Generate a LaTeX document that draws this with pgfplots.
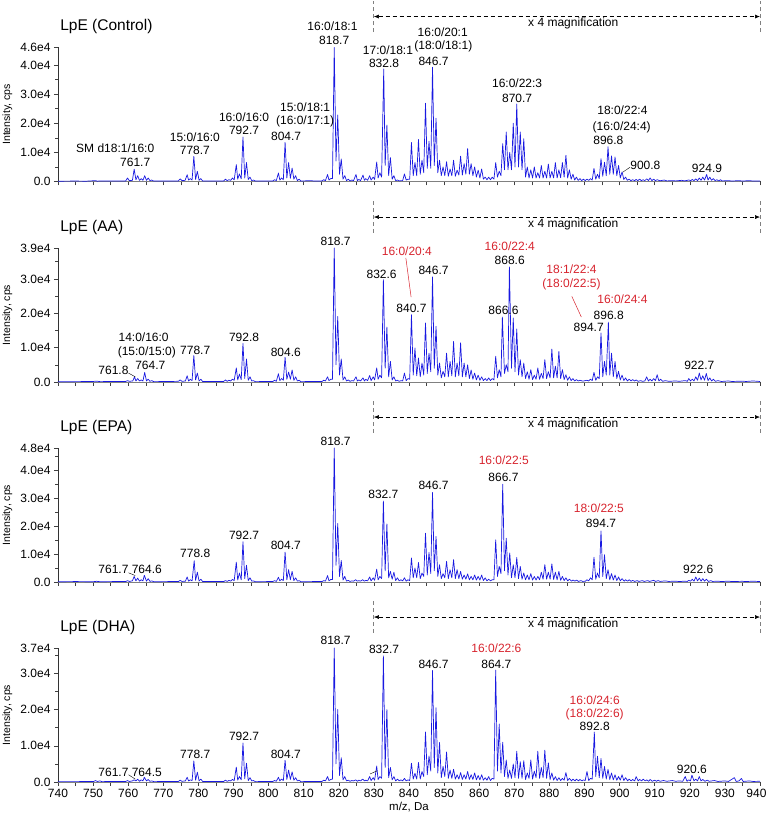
\documentclass[border=0pt]{standalone}
\usepackage{fontspec}
\setmainfont{Liberation Sans}
\usepackage{pgfplots}
\pgfplotsset{compat=1.18}
\usetikzlibrary{arrows.meta}
\definecolor{specblue}{RGB}{25,25,225}
\definecolor{lred}{RGB}{215,35,45}
\newcommand{\lab}[3][black]{\node[font=\fontsize{12}{14}\selectfont, text=#1, inner sep=0pt] at (axis cs:#2) {#3};}
\newcommand{\panelextras}[1]{%
  \node[anchor=west, font=\fontsize{15.5}{18}\selectfont, inner sep=0pt] at (rel axis cs:0.003,1.155) {#1};
  \draw[gray, dash pattern=on 4pt off 3pt, line width=0.9pt] (rel axis cs:0.45,1.115) -- (rel axis cs:0.45,1.35);
  \draw[gray, dash pattern=on 4pt off 3pt, line width=0.9pt] (rel axis cs:1,1.115) -- (rel axis cs:1,1.35);
  \draw[black, dash pattern=on 4pt off 3pt, line width=0.5pt, {Latex[length=5pt,width=4pt]}-{Latex[length=5pt,width=4pt]}] (rel axis cs:0.45,1.231) -- (rel axis cs:1,1.231);
  \node[font=\fontsize{12}{14}\selectfont, inner sep=0pt] at (rel axis cs:0.734,1.179) {x 4 magnification};
}
\pgfplotsset{
  spec/.style={
    width=702pt, height=134pt, scale only axis,
    xmin=740, xmax=940, ymin=0,
    axis x line*=bottom, axis y line*=left,
    axis line style={-},
    x axis line style={gray, line width=0.8pt},
    y axis line style={black!80, line width=0.6pt},
    xtick={740,745,...,940},
    xticklabels={},
    tick align=outside, major tick length=4pt, minor tick length=2.5pt,
    tick style={black!75, line width=0.5pt},
    tick label style={font=\fontsize{12}{14}\selectfont},
    /pgf/number format/assume math mode=true,
    scaled y ticks=false,
    ylabel={Intensity, cps},
    ylabel style={font=\fontsize{10.5}{12}\selectfont, at={(axis description cs:-0.072,0.5)}, anchor=center},
    clip=false,
  },
  sp/.style={specblue, line width=0.7pt, line join=round, no markers},
}
\begin{document}
\begin{tikzpicture}
\useasboundingbox (0,0) rectangle (768pt,814pt);
% ---------------- Control ----------------
\begin{axis}[spec, at={(58pt,632.5pt)}, anchor=south west,
  ymax=46000, ytick={0,10000,20000,30000,40000,46000},
  yticklabels={0.0,1.0e4,2.0e4,3.0e4,4.0e4,4.6e4},
  minor ytick={5000,15000,25000,35000}]
\addplot[sp] coordinates {
(740,100)(745,150)(748,100)(750.7,300)(751.2,100)(752,200)(755,150)(758,200)(759.3,200)(759.8,1200)(760.3,300)(761.2,400)(761.7,4200)(762.2,600)(762.7,2000)(763.2,400)(763.7,1000)(764.2,400)(764.7,2000)(765.2,400)(765.7,1200)(766.2,300)(766.7,500)(767.3,150)(770,150)(773,200)(774.3,200)(774.8,900)(775.3,300)(776.2,400)(776.8,2300)(777.2,500)(777.7,1000)(778.2,500)(778.7,8600)(779.2,700)(779.7,3500)(780.2,400)(780.7,1000)(781.2,200)(784,150)(787.2,200)(787.7,800)(788.2,300)(788.7,600)(789.2,400)(789.7,1200)(790.2,600)(790.8,5800)(791.2,800)(791.7,2600)(792.2,900)(792.7,15300)(793.2,1200)(793.7,6500)(794.2,700)(794.7,1500)(795.2,300)(795.7,500)(796.2,150)(799,150)(801.2,200)(801.7,600)(802.2,300)(802.8,2900)(803.2,500)(803.7,1200)(804.2,600)(804.7,13400)(805.2,1200)(805.7,6500)(806.2,1100)(806.7,4600)(807.2,800)(807.7,2000)(808.2,300)(808.7,800)(809.2,150)(812,300)(813,150)(815.2,200)(815.7,600)(816.2,300)(816.8,2400)(817.2,500)(817.7,1000)(818.2,1000)(818.7,46000)(819.2,7000)(819.7,22800)(820.2,2500)(820.7,7700)(821.2,800)(821.7,2000)(822.2,300)(822.7,800)(823.2,200)(823.7,500)(824.2,300)(824.9,2400)(825.3,300)(825.7,700)(826.2,300)(826.9,2200)(827.3,400)(827.7,1000)(828.2,400)(828.8,2000)(829.2,500)(829.8,1500)(830.2,700)(830.8,6700)(831.2,1200)(831.7,3000)(832.2,1500)(832.8,38600)(833.2,5500)(833.7,19400)(834.2,2000)(834.7,8200)(835.2,800)(835.7,2000)(836.2,300)(836.7,500)(837.2,200)(837.7,300)(838.2,300)(838.7,2600)(839.2,500)(839.7,800)(840.2,800)(840.7,13400)(841.2,2000)(841.7,6500)(842.2,2000)(842.7,14400)(843.2,2500)(843.7,7300)(844.2,3000)(844.7,26900)(845.2,4500)(845.7,13800)(846.2,4500)(846.7,39200)(847.2,5500)(847.7,21700)(848.2,3000)(848.7,7300)(849.2,2000)(849.7,5000)(850.2,2000)(850.7,6800)(851.2,1800)(851.7,4300)(852.2,2000)(852.7,7300)(853.2,1800)(853.7,3900)(854.2,2200)(854.7,8700)(855.2,2200)(855.7,6100)(856.2,2500)(856.7,11300)(857.2,2500)(857.7,6100)(858.2,2000)(858.7,5000)(859.2,1500)(859.7,3900)(860.2,1200)(860.7,4300)(861.2,800)(861.7,1500)(862.2,600)(862.7,1500)(863.2,600)(863.7,1500)(864.2,800)(864.7,6500)(865.2,1500)(865.7,3500)(866.2,2000)(866.7,13000)(867.2,4000)(867.7,17000)(868.2,4000)(868.7,10000)(869.2,4000)(869.7,20000)(870.2,5000)(870.7,26600)(871.2,5000)(871.7,17000)(872.2,4000)(872.7,14700)(873.2,1500)(873.7,5000)(874.2,1200)(874.7,4000)(875.2,1200)(875.7,5000)(876.2,1200)(876.7,3000)(877.2,1200)(877.7,5500)(878.2,1200)(878.7,3500)(879.2,1200)(879.7,6000)(880.2,1200)(880.7,3500)(881.2,1200)(881.7,6500)(882.2,1200)(882.7,4000)(883.2,1300)(883.7,6500)(884.2,1500)(884.7,9000)(885.2,1200)(885.7,4000)(886.2,800)(886.7,2500)(887.2,500)(887.7,1500)(888.2,400)(888.7,1000)(889.2,300)(889.7,800)(890.2,300)(890.7,800)(891.2,400)(891.7,1000)(892.2,500)(892.7,4500)(893.2,800)(893.7,2500)(894.2,1000)(894.7,7800)(895.2,1800)(895.7,6600)(896.2,2000)(896.7,11900)(897.2,2500)(897.7,8800)(898.2,2500)(898.7,8400)(899.2,2000)(899.7,5500)(900.2,1200)(900.7,3300)(901.2,700)(901.7,1500)(902.2,400)(902.7,800)(903.2,300)(903.7,600)(904.3,300)(904.7,700)(905.2,300)(905.7,800)(906.2,300)(906.7,600)(907.2,300)(907.7,900)(908.2,300)(908.7,1200)(909.2,300)(909.7,800)(910.2,300)(910.7,600)(911.5,250)(912.7,500)(913.5,200)(915,300)(916,200)(917.7,400)(918.5,200)(919.7,500)(920.3,300)(920.7,700)(921.2,300)(921.7,900)(922.2,300)(922.7,1200)(923.2,400)(923.7,1500)(924.2,500)(924.8,2400)(925.2,500)(925.7,1500)(926.2,400)(926.7,1000)(927.2,300)(927.7,600)(928.3,200)(928.7,600)(929.3,200)(931,300)(932,150)(934,300)(935,150)(937,300)(938,150)(940,200)
};
\panelextras{LpE (Control)}
\lab{756.3,11300}{SM d18:1/16:0}
\lab{762,6400}{761.7}
\lab{779,15300}{15:0/16:0}
\lab{779,10700}{778.7}
\lab{793,22000}{16:0/16:0}
\lab{793,17400}{792.7}
\lab{810.4,25400}{15:0/18:1}
\lab{810.4,20800}{(16:0/17:1)}
\lab{805,15500}{804.7}
\lab{818.2,53200}{16:0/18:1}
\lab{818.7,48600}{818.7}
\lab{834,45200}{17:0/18:1}
\lab{832.9,40600}{832.8}
\lab{849.6,51300}{16:0/20:1}
\lab{849.8,46300}{(18:0/18:1)}
\lab{847,41400}{846.7}
\lab{870.8,33700}{16:0/22:3}
\lab{870.8,28700}{870.7}
\lab{900.8,24500}{18:0/22:4}
\lab{900.6,18700}{(16:0/24:4)}
\lab{896.8,14100}{896.8}
\draw[black, line width=0.4pt] (axis cs:900.9,3200) -- (axis cs:903.0,4900);
\node[anchor=west, font=\fontsize{12}{14}\selectfont, inner sep=0pt] at (axis cs:903.0,5500) {900.8};
\lab{924.9,4400}{924.9}
\end{axis}
% ---------------- AA ----------------
\begin{axis}[spec, at={(58pt,432pt)}, anchor=south west,
  ymax=39000, ytick={0,10000,20000,30000,39000},
  yticklabels={0.0,1.0e4,2.0e4,3.0e4,3.9e4},
  minor ytick={5000,15000,25000,35000}]
\addplot[sp] coordinates {
(740,100)(745,100)(750,150)(751,250)(752,100)(755,150)(759.3,150)(759.8,400)(760.3,200)(761.3,300)(761.8,1500)(762.2,300)(762.7,1000)(763.2,300)(763.7,600)(764.2,300)(764.7,2800)(765.2,300)(765.7,800)(766.2,200)(766.7,400)(767.3,100)(772,150)(774.3,200)(774.8,600)(775.3,200)(776.3,300)(776.8,1800)(777.2,300)(777.7,800)(778.2,400)(778.7,7700)(779.2,600)(779.7,2600)(780.2,300)(780.7,800)(781.2,150)(785,150)(787.2,150)(787.7,600)(788.2,200)(788.7,500)(789.2,300)(789.7,800)(790.2,500)(790.8,4100)(791.2,600)(791.7,2300)(792.2,700)(792.7,11200)(793.2,1000)(793.7,6700)(794.2,500)(794.7,1500)(795.2,300)(795.7,400)(796.2,100)(800,150)(801.2,150)(801.7,500)(802.2,200)(802.8,2400)(803.2,400)(803.7,1000)(804.2,500)(804.7,7200)(805.2,800)(805.7,2900)(806.2,800)(806.7,3500)(807.2,500)(807.7,1500)(808.2,300)(808.7,500)(809.2,100)(813,150)(815.2,150)(815.7,500)(816.2,300)(816.8,1500)(817.2,400)(817.7,800)(818.2,800)(818.7,39000)(819.2,5000)(819.7,19100)(820.2,2000)(820.7,6700)(821.2,600)(821.7,1500)(822.2,300)(822.7,600)(823.2,200)(823.7,400)(824.2,300)(824.9,1500)(825.3,300)(825.7,600)(826.2,300)(826.9,1200)(827.3,300)(827.7,800)(828.2,400)(828.8,1900)(829.2,400)(829.8,1500)(830.2,600)(830.8,4100)(831.2,800)(831.7,2000)(832.2,1200)(832.7,29800)(833.2,4000)(833.7,16000)(834.2,1500)(834.7,6000)(835.2,600)(835.7,1500)(836.2,300)(836.7,500)(837.2,200)(837.7,400)(838.2,300)(838.7,2600)(839.2,400)(839.7,1000)(840.2,800)(840.7,19600)(841.2,2000)(841.7,9900)(842.2,1800)(842.7,7000)(843.2,1500)(843.7,5500)(844.2,2000)(844.7,17200)(845.2,2500)(845.7,8400)(846.2,3000)(846.7,30600)(847.2,4000)(847.7,16200)(848.2,2000)(848.7,5500)(849.2,1200)(849.7,3100)(850.2,1500)(850.7,8400)(851.2,1500)(851.7,6000)(852.2,1800)(852.7,11800)(853.2,1500)(853.7,5500)(854.2,1800)(854.7,11400)(855.2,1500)(855.7,5500)(856.2,1500)(856.7,5000)(857.2,1000)(857.7,3500)(858.2,800)(858.7,2600)(859.2,600)(859.7,2000)(860.2,500)(860.7,1500)(861.2,400)(861.7,1000)(862.2,400)(862.7,1200)(863.2,400)(863.7,1000)(864.2,600)(864.7,7500)(865.2,1200)(865.7,3600)(866.2,1500)(866.6,18900)(867.2,2500)(867.7,5000)(868.2,3000)(868.6,33500)(869.2,4000)(869.7,18600)(870.2,3000)(870.7,15400)(871.2,2000)(871.7,6500)(872.2,1500)(872.7,5500)(873.2,1000)(873.7,3000)(874.2,800)(874.7,3600)(875.2,700)(875.7,2000)(876.2,800)(876.7,4100)(877.2,800)(877.7,2500)(878.2,1000)(878.7,6500)(879.2,1000)(879.7,3000)(880.2,1200)(880.7,9600)(881.2,1200)(881.7,4600)(882.2,1200)(882.7,8900)(883.2,1000)(883.7,3600)(884.2,700)(884.7,2100)(885.2,500)(885.7,1500)(886.2,400)(886.7,1000)(887.2,300)(887.7,700)(888.2,300)(888.7,500)(889.5,250)(890.7,500)(891.2,300)(891.7,800)(892.2,400)(892.7,2800)(893.2,500)(893.7,1500)(894.2,1000)(894.7,14300)(895.2,1500)(895.7,6000)(896.2,2000)(896.8,17400)(897.2,2000)(897.7,8400)(898.2,1500)(898.7,6000)(899.2,1000)(899.7,3100)(900.2,600)(900.7,2000)(901.2,400)(901.7,1200)(902.2,300)(902.7,800)(903.3,300)(903.7,700)(904.3,300)(904.7,600)(905.3,200)(906,400)(906.5,200)(907.2,300)(907.7,1500)(908.2,300)(908.7,800)(909.2,300)(909.7,1000)(910.2,400)(910.7,2100)(911.2,300)(911.7,800)(912.3,200)(913,400)(914,200)(916,300)(917,200)(918.7,400)(919.3,200)(919.7,1000)(920.2,300)(920.7,800)(921.2,300)(921.7,1500)(922.2,500)(922.7,2600)(923.2,600)(923.7,1800)(924.2,500)(924.7,2500)(925.2,400)(925.7,1200)(926.2,300)(926.7,800)(927.3,200)(928,400)(929,150)(931,300)(932,150)(935,250)(936,150)(938,300)(940,150)
};
\panelextras{LpE (AA)}
\lab{819.1,40900}{818.7}
\lab[lred]{839.4,38200}{16:0/20:4}
\draw[lred, line width=0.5pt] (axis cs:839.1,36100) -- (axis cs:840.6,24700);
\lab{832.2,31400}{832.6}
\lab{840.7,21500}{840.7}
\lab{847,32400}{846.7}
\lab[lred]{868.7,39500}{16:0/22:4}
\lab{868.7,35300}{868.6}
\lab{866.9,20900}{866.6}
\lab[lred]{886.3,32700}{18:1/22:4}
\lab[lred]{886.3,28300}{(18:0/22:5)}
\draw[lred, line width=0.5pt] (axis cs:886.4,24900) -- (axis cs:889.1,18900);
\lab[lred]{900.8,24000}{16:0/24:4}
\lab{896.9,19300}{896.8}
\lab{891.2,16000}{894.7}
\lab{922.7,4800}{922.7}
\lab{764.4,13100}{14:0/16:0}
\lab{765.3,8600}{(15:0/15:0)}
\lab{766.3,4800}{764.7}
\lab{755.8,3300}{761.8}
\draw[black, line width=0.4pt] (axis cs:760.1,2600) -- (axis cs:762,1500);
\lab{779.1,9200}{778.7}
\lab{793,13100}{792.8}
\lab{804.9,8700}{804.6}
\end{axis}
% ---------------- EPA ----------------
\begin{axis}[spec, at={(58pt,232pt)}, anchor=south west,
  ymax=48000, ytick={0,10000,20000,30000,40000,48000},
  yticklabels={0.0,1.0e4,2.0e4,3.0e4,4.0e4,4.8e4},
  minor ytick={5000,15000,25000,35000,45000}]
\addplot[sp] coordinates {
(740,100)(745,150)(750,100)(751,250)(752,100)(756,150)(759.3,150)(759.8,500)(760.3,200)(761.2,400)(761.7,2000)(762.2,400)(762.7,1400)(763.2,300)(763.7,800)(764.2,400)(764.6,2400)(765.2,300)(765.7,1200)(766.2,200)(766.7,400)(767.3,100)(772,150)(774.3,150)(774.8,600)(775.3,200)(776.3,300)(776.8,1800)(777.2,300)(777.7,800)(778.2,400)(778.8,7600)(779.2,600)(779.7,3500)(780.2,300)(780.7,1000)(781.2,150)(785,150)(787.2,150)(787.7,500)(788.2,200)(788.7,600)(789.2,300)(789.7,900)(790.2,500)(790.8,7100)(791.2,700)(791.7,3200)(792.2,800)(792.7,14400)(793.2,1200)(793.7,6000)(794.2,500)(794.7,1500)(795.2,300)(795.7,400)(796.2,100)(800,150)(801.2,150)(801.7,500)(802.2,200)(802.8,1700)(803.2,400)(803.7,1000)(804.2,500)(804.7,10700)(805.2,800)(805.7,4400)(806.2,800)(806.7,3800)(807.2,500)(807.7,1500)(808.2,300)(808.7,500)(809.2,100)(813,150)(815.2,150)(815.7,500)(816.2,300)(816.8,2300)(817.2,400)(817.7,900)(818.2,900)(818.7,48000)(819.2,6000)(819.7,21000)(820.2,2000)(820.7,7700)(821.2,700)(821.7,2000)(822.2,300)(822.7,600)(823.2,200)(823.7,400)(824.2,300)(824.8,800)(825.3,300)(825.7,500)(826.2,300)(826.8,800)(827.3,300)(827.7,600)(828.2,400)(828.8,1800)(829.2,400)(829.8,1500)(830.2,600)(830.8,4600)(831.2,800)(831.7,2000)(832.2,1200)(832.7,29000)(833.2,4000)(833.7,20800)(834.2,1500)(834.7,3800)(835.2,1000)(835.7,3500)(836.2,500)(836.7,1500)(837.2,400)(837.7,800)(838.2,400)(838.7,1500)(839.2,300)(839.7,800)(840.2,500)(840.7,8600)(841.2,1500)(841.7,5000)(842.2,1500)(842.7,7000)(843.2,1200)(843.7,3200)(844.2,2000)(844.7,17500)(845.2,2500)(845.7,10600)(846.2,3000)(846.7,32100)(847.2,4000)(847.7,16300)(848.2,2000)(848.7,6200)(849.2,1200)(849.7,3000)(850.2,1500)(850.7,7400)(851.2,1200)(851.7,4400)(852.2,1500)(852.7,8000)(853.2,1200)(853.7,4400)(854.2,1200)(854.7,3800)(855.2,1000)(855.7,2500)(856.2,1000)(856.7,2900)(857.2,800)(857.7,2000)(858.2,800)(858.7,2500)(859.2,700)(859.7,2000)(860.2,700)(860.7,2500)(861.2,500)(861.7,1500)(862.2,400)(862.7,1000)(863.2,400)(863.7,800)(864.2,800)(864.7,15100)(865.2,2000)(865.7,5600)(866.2,3000)(866.7,35000)(867.2,4000)(867.7,15700)(868.2,2500)(868.7,10400)(869.2,1500)(869.7,6200)(870.2,1500)(870.7,8800)(871.2,1200)(871.7,5600)(872.2,1000)(872.7,3200)(873.2,800)(873.7,2500)(874.2,800)(874.7,3000)(875.2,700)(875.7,2000)(876.2,700)(876.7,2000)(877.2,800)(877.7,3500)(878.2,1000)(878.7,6200)(879.2,1000)(879.7,3500)(880.2,1000)(880.7,6500)(881.2,900)(881.7,3500)(882.2,800)(882.7,3800)(883.2,600)(883.7,2000)(884.2,500)(884.7,1500)(885.2,400)(885.7,1000)(886.3,300)(886.7,700)(887.3,300)(887.7,700)(888.3,200)(889,500)(889.5,200)(890.3,300)(890.7,800)(891.2,400)(891.7,1500)(892.2,800)(892.7,8900)(893.2,1000)(893.7,3200)(894.2,1500)(894.7,18300)(895.2,2000)(895.7,9800)(896.2,1200)(896.7,4400)(897.2,800)(897.7,3000)(898.2,700)(898.7,2500)(899.2,500)(899.7,1800)(900.2,400)(900.7,1200)(901.3,300)(901.7,800)(902.3,300)(902.7,800)(903.3,200)(903.7,600)(904.3,200)(905,500)(905.5,200)(906.5,500)(907,200)(908,500)(908.5,200)(909.7,600)(910.3,200)(911,500)(911.5,200)(913,400)(914,200)(916,300)(917,150)(918.5,300)(919.3,200)(919.7,600)(920.2,300)(920.7,1000)(921.2,300)(921.7,1800)(922.2,400)(922.7,1400)(923.2,300)(923.7,1200)(924.2,300)(924.7,1000)(925.3,200)(926,500)(926.5,200)(928,300)(929,150)(931,300)(932,150)(935,250)(936,150)(938,300)(940,150)
};
\panelextras{LpE (EPA)}
\lab{819.1,50400}{818.7}
\lab{832.7,31500}{832.7}
\lab{847,34600}{846.7}
\lab[lred]{867,43500}{16:0/22:5}
\lab{866.9,37500}{866.7}
\lab[lred]{894.1,26500}{18:0/22:5}
\lab{894.7,20900}{894.7}
\lab{922.4,4700}{922.6}
\lab{755.8,4700}{761.7}
\draw[black, line width=0.4pt] (axis cs:760.1,3300) -- (axis cs:762,2300);
\lab{765.3,4700}{764.6}
\lab{779.1,10100}{778.8}
\lab{793,16700}{792.7}
\lab{804.9,13100}{804.7}
\end{axis}
% ---------------- DHA ----------------
\begin{axis}[spec, at={(58pt,32pt)}, anchor=south west,
  ymax=37000, ytick={0,10000,20000,30000,37000},
  yticklabels={0.0,1.0e4,2.0e4,3.0e4,3.7e4},
  minor ytick={5000,15000,25000,35000},
  xticklabels={740,,750,,760,,770,,780,,790,,800,,810,,820,,830,,840,,850,,860,,870,,880,,890,,900,,910,,920,,930,,{\hspace*{-7pt}940}},
  xlabel={m/z, Da},
  xlabel style={font=\fontsize{11.5}{13}\selectfont, at={(axis description cs:0.5,-0.187)}, anchor=center}]
\addplot[sp] coordinates {
(740,100)(745,100)(750.2,150)(750.7,400)(751.2,150)(752,300)(752.5,100)(756,150)(759.3,150)(759.8,400)(760.3,150)(761.2,300)(761.7,600)(762.2,300)(762.7,800)(763.2,200)(763.7,600)(764.2,300)(764.6,1300)(765.2,300)(765.7,700)(766.2,200)(766.7,300)(767.3,100)(772,150)(774.3,150)(774.8,500)(775.3,200)(776.3,300)(776.8,1300)(777.2,300)(777.7,600)(778.2,400)(778.7,5800)(779.2,500)(779.7,2700)(780.2,300)(780.7,800)(781.2,150)(785,150)(787.2,150)(787.7,500)(788.2,200)(788.7,400)(789.2,300)(789.7,700)(790.2,400)(790.8,4100)(791.2,500)(791.7,1500)(792.2,600)(792.7,10800)(793.2,900)(793.7,5200)(794.2,400)(794.7,1200)(795.2,300)(795.7,400)(796.2,100)(800,150)(801.2,150)(801.7,400)(802.2,200)(802.8,1300)(803.2,300)(803.7,800)(804.2,400)(804.7,6000)(805.2,700)(805.7,3300)(806.2,700)(806.7,2800)(807.2,500)(807.7,1200)(808.2,300)(808.7,500)(809.2,100)(813,150)(815.2,150)(815.7,500)(816.2,300)(816.8,1500)(817.2,400)(817.7,700)(818.2,800)(818.7,37000)(819.2,5000)(819.7,20000)(820.2,1800)(820.7,6700)(821.2,600)(821.7,1500)(822.2,300)(822.7,500)(823.2,200)(823.7,400)(824.2,300)(824.8,600)(825.3,200)(825.7,500)(826.2,300)(826.8,800)(827.3,300)(827.7,500)(828.2,300)(828.8,1500)(829.2,400)(829.8,1200)(830.2,500)(830.8,4400)(831.2,700)(831.7,1500)(832.2,1000)(832.7,34800)(833.2,4000)(833.7,20000)(834.2,1200)(834.7,4000)(835.2,600)(835.7,1500)(836.2,300)(836.7,800)(837.2,300)(837.7,600)(838.2,300)(838.7,1000)(839.2,300)(839.7,600)(840.2,400)(840.7,5200)(841.2,800)(841.7,2400)(842.2,800)(842.7,5400)(843.2,800)(843.7,2900)(844.2,1500)(844.7,13800)(845.2,2000)(845.7,7200)(846.2,3000)(846.7,30800)(847.2,4000)(847.7,20500)(848.2,2500)(848.7,10900)(849.2,1200)(849.7,4300)(850.2,1500)(850.7,8300)(851.2,1000)(851.7,3300)(852.2,1000)(852.7,3500)(853.2,800)(853.7,2000)(854.2,800)(854.7,2600)(855.2,700)(855.7,2000)(856.2,800)(856.7,2900)(857.2,700)(857.7,2000)(858.2,700)(858.7,2500)(859.2,600)(859.7,1800)(860.2,600)(860.7,2000)(861.2,500)(861.7,1200)(862.2,500)(862.7,1500)(863.2,400)(863.7,1000)(864.2,800)(864.7,30900)(865.2,3000)(865.7,16000)(866.2,2500)(866.7,11000)(867.2,1500)(867.7,6100)(868.2,1000)(868.7,3300)(869.2,1000)(869.7,5000)(870.2,1200)(870.7,8500)(871.2,1000)(871.7,5600)(872.2,1000)(872.7,5900)(873.2,700)(873.7,2500)(874.2,1000)(874.7,6100)(875.2,800)(875.7,3000)(876.2,1200)(876.7,8500)(877.2,1000)(877.7,4000)(878.2,1200)(878.7,8800)(879.2,1000)(879.7,5300)(880.2,700)(880.7,2500)(881.2,500)(881.7,1500)(882.2,400)(882.7,1200)(883.2,400)(883.7,1000)(884.2,500)(884.7,2600)(885.2,400)(885.7,1000)(886.3,300)(886.7,800)(887.3,300)(887.7,800)(888.3,300)(888.7,700)(889.3,300)(889.7,600)(890.2,400)(890.7,2900)(891.2,400)(891.7,1000)(892.2,800)(892.8,13800)(893.2,1500)(893.7,7100)(894.2,1200)(894.7,6500)(895.2,1000)(895.7,4300)(896.2,800)(896.7,3500)(897.2,700)(897.7,2500)(898.2,600)(898.7,2000)(899.2,500)(899.7,1500)(900.2,500)(900.7,2000)(901.2,400)(901.7,1200)(902.3,300)(902.7,800)(903.3,300)(903.7,700)(904.3,300)(904.7,1500)(905.3,300)(905.7,700)(906.3,300)(906.7,800)(907.3,300)(907.7,600)(908.3,200)(908.7,700)(909.3,200)(910,500)(910.5,200)(911,500)(911.5,200)(912.5,400)(913.5,200)(915,400)(916,200)(917,300)(918,200)(918.7,1500)(919.2,200)(919.7,600)(920.2,300)(920.6,1900)(921.2,300)(921.7,800)(922.2,300)(922.7,1500)(923.2,300)(923.7,700)(924.3,200)(925,500)(925.5,200)(927,400)(928,150)(930,300)(931,150)(932.7,1200)(933.2,150)(934,300)(934.7,1000)(935.2,150)(937,300)(938,150)(940,200)
};
\panelextras{LpE (DHA)}
\lab{819.1,39100}{818.7}
\lab{832.9,36700}{832.7}
\lab{847,32600}{846.7}
\lab[lred]{864.9,37000}{16:0/22:6}
\lab{864.9,32600}{864.7}
\lab[lred]{892.9,22600}{16:0/24:6}
\lab[lred]{892.9,18600}{(18:0/22:6)}
\lab{892.9,15300}{892.8}
\lab{920.6,3500}{920.6}
\lab{755.8,2600}{761.7}
\draw[black, line width=0.4pt] (axis cs:760.1,2000) -- (axis cs:762,800);
\lab{765.3,2600}{764.5}
\lab{779.1,7700}{778.7}
\lab{793,12600}{792.7}
\lab{804.9,7700}{804.7}
\draw[black, line width=0.4pt] (axis cs:828.9,2200) -- (axis cs:830.9,3100);
\end{axis}
\end{tikzpicture}
\end{document}
